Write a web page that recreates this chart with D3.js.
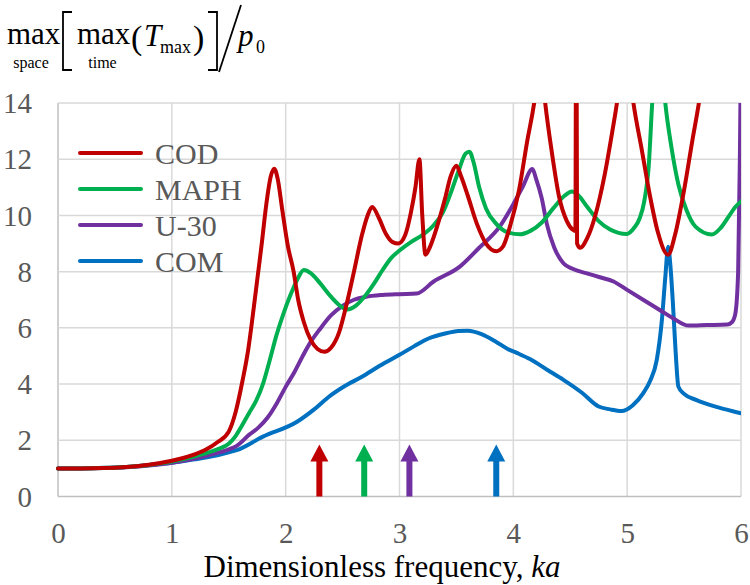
<!DOCTYPE html>
<html>
<head>
<meta charset="utf-8">
<script src="https://cdn.jsdelivr.net/npm/d3@7"></script>
<style>
  html, body { margin: 0; padding: 0; background: #ffffff; }
  svg { display: block; }
  text { font-family: "Liberation Serif", "Times New Roman", serif; }
</style>
</head>
<body>
<div id="chart"></div>
<script>
// ---------------- DATA ----------------
const kaTicks = [0, 1, 2, 3, 4, 5, 6];
const valTicks = [0, 2, 4, 6, 8, 10, 12, 14];
const seriesNames = ["COD", "MAPH", "U-30", "COM"];
const seriesColors = ["#C00000", "#00B050", "#7030A0", "#0070C0"];

const codData = [[0,1.0],[0.2,1.0],[0.4,1.01],[0.6,1.05],[0.8,1.13],[1.0,1.27],[1.1,1.37],[1.2,1.5],[1.3,1.67],[1.4,1.93],[1.5,2.31],
  [1.56,3.0],[1.62,4.1],[1.67,5.2],[1.71,6.4],[1.75,7.7],[1.79,9.0],[1.83,10.4],[1.87,11.4],[1.9,11.66],[1.93,11.3],[1.97,10.2],
  [2.02,8.9],[2.07,8.0],[2.11,7.0],[2.16,6.2],[2.22,5.57],[2.28,5.25],[2.34,5.15],[2.4,5.3],[2.47,5.85],[2.53,6.75],[2.6,8.0],
  [2.67,9.3],[2.72,10.0],[2.76,10.3],[2.82,9.9],[2.88,9.35],[2.94,9.05],[2.99,9.0],[3.05,9.3],[3.1,10.1],[3.14,11.0],[3.175,12.0],
  [3.2,10.0],[3.228,8.6],[3.27,8.9],[3.33,9.6],[3.4,10.6],[3.45,11.4],[3.5,11.77],[3.54,11.4],[3.6,10.7],[3.68,9.7],[3.76,9.0],
  [3.85,8.73],[3.91,8.9],[3.97,9.6],[4.05,10.9],[4.12,12.6],[4.19,14.2],[4.235,15.8],[4.28,14.0],[4.34,12.2],[4.4,10.7],[4.47,9.8],
  [4.52,9.5],[4.545,9.45],[4.553,20],[4.56,9.0],[4.587,8.85],[4.65,9.2],[4.72,10.0],[4.8,11.4],[4.87,13.0],[4.91,14.0],[4.98,16.5],
  [5.055,14.0],[5.13,12.3],[5.2,10.7],[5.27,9.4],[5.36,8.6],[5.42,9.3],[5.5,10.9],[5.57,12.6],[5.63,14.0],[5.7,16],[5.8,19]];

const maphData = [[0,1.0],[0.2,1.0],[0.4,1.01],[0.6,1.05],[0.8,1.12],[1.0,1.24],[1.2,1.43],[1.4,1.68],[1.5,1.88],[1.56,2.15],
  [1.62,2.55],[1.68,2.98],[1.74,3.4],[1.8,4.0],[1.86,4.85],[1.92,5.75],[1.98,6.5],[2.04,7.15],[2.1,7.7],[2.16,8.06],
  [2.22,7.95],[2.3,7.6],[2.4,7.1],[2.48,6.78],[2.54,6.65],[2.62,6.8],[2.71,7.2],[2.78,7.6],[2.85,8.05],[2.93,8.5],[3.0,8.75],
  [3.1,9.05],[3.2,9.3],[3.3,9.65],[3.38,10.1],[3.45,10.8],[3.52,11.6],[3.58,12.2],[3.614,12.27],[3.65,11.9],[3.7,11.0],[3.76,10.25],
  [3.85,9.7],[3.95,9.4],[4.06,9.33],[4.15,9.45],[4.25,9.75],[4.35,10.25],[4.45,10.7],[4.514,10.85],[4.57,10.72],[4.65,10.3],
  [4.75,9.8],[4.85,9.5],[4.997,9.34],[5.06,9.55],[5.11,9.9],[5.15,10.5],[5.19,11.8],[5.22,14],[5.275,17],[5.335,14],[5.39,12.4],
  [5.45,11.1],[5.52,10.2],[5.6,9.6],[5.744,9.32],[5.82,9.55],[5.89,9.95],[5.95,10.3],[6.0,10.5]];

const u30Data = [[0,1.0],[0.2,1.0],[0.4,1.01],[0.6,1.04],[0.8,1.1],[1.0,1.2],[1.2,1.35],[1.4,1.55],[1.5,1.68],[1.57,1.8],
  [1.68,2.2],[1.76,2.45],[1.84,2.8],[1.92,3.3],[2.0,3.9],[2.08,4.45],[2.15,5.0],[2.22,5.5],[2.3,5.95],[2.4,6.45],[2.5,6.78],
  [2.6,7.0],[2.7,7.1],[2.85,7.17],[3.0,7.2],[3.15,7.22],[3.3,7.65],[3.53,8.18],[3.7,8.85],[3.88,9.6],[4.0,10.4],[4.08,11.0],
  [4.168,11.65],[4.2,11.3],[4.25,10.6],[4.294,9.7],[4.36,8.85],[4.44,8.3],[4.52,8.1],[4.646,7.94],[4.76,7.8],[4.88,7.65],
  [5.0,7.35],[5.14,7.0],[5.3,6.6],[5.4,6.35],[5.54,6.08],[5.7,6.1],[5.88,6.12],[5.92,6.2],[5.95,6.5],[5.975,8],[5.99,12],[6.0,16]];

const comData = [[0,1.0],[0.2,1.0],[0.4,1.02],[0.6,1.05],[0.8,1.12],[1.0,1.2],[1.2,1.32],[1.4,1.47],[1.5,1.57],[1.57,1.65],
  [1.8,2.13],[2.1,2.66],[2.25,3.1],[2.38,3.55],[2.52,3.93],[2.67,4.26],[2.83,4.66],[3.0,5.04],[3.13,5.35],[3.26,5.63],[3.4,5.8],
  [3.52,5.89],[3.6,5.9],[3.72,5.78],[3.85,5.5],[3.95,5.25],[4.03,5.11],[4.15,4.88],[4.3,4.5],[4.44,4.15],[4.6,3.7],[4.75,3.2],
  [4.85,3.1],[4.95,3.04],[5.05,3.25],[5.14,3.67],[5.2,4.1],[5.26,4.86],[5.305,6.28],[5.335,7.8],[5.36,8.89],[5.38,8.2],[5.4,7.0],
  [5.425,5.2],[5.45,3.91],[5.5,3.65],[5.61,3.43],[5.8,3.17],[6.0,2.96]];

const seriesData = [codData, maphData, u30Data, comData];

// arrows (resonance markers) positions in ka, same order as series
const arrowKa = [2.296, 2.69, 3.087, 3.85];
const arrowTop = 1.85;

// ---------------- LAYOUT ----------------
const W = 750, H = 585;
const x0 = 58, x1 = 741, y0 = 496.5, y1 = 103;

const svg = d3.select("#chart").append("svg").attr("width", W).attr("height", H);

const x = d3.scaleLinear().domain([0, 6]).range([x0, x1]);
const y = d3.scaleLinear().domain([0, 14]).range([y0, y1]);

// gridlines
const grid = svg.append("g");
grid.selectAll("line.v").data(kaTicks).enter().append("line")
  .attr("x1", d => x(d)).attr("x2", d => x(d)).attr("y1", y1).attr("y2", y0)
  .attr("stroke", d => d === 0 ? "#bfbfbf" : "#d9d9d9").attr("stroke-width", 1.5);
grid.selectAll("line.h").data(valTicks).enter().append("line")
  .attr("x1", x0).attr("x2", x1).attr("y1", d => y(d)).attr("y2", d => y(d))
  .attr("stroke", d => d === 0 ? "#bfbfbf" : "#d9d9d9").attr("stroke-width", 1.5);

// axes (labels only)
const xAxis = d3.axisBottom(x).tickValues(kaTicks).tickSize(0).tickPadding(0).tickFormat(d3.format("d"));
const gx = svg.append("g").attr("transform", `translate(0,${y0})`).call(xAxis);
gx.select(".domain").remove();
gx.attr("font-family", null);
gx.selectAll("text").attr("font-size", 29).attr("fill", "#595959")
  .attr("dy", null).attr("y", 46);

const yAxis = d3.axisLeft(y).tickValues(valTicks).tickSize(0).tickPadding(0).tickFormat(d3.format("d"));
const gy = svg.append("g").attr("transform", `translate(32,0)`).call(yAxis);
gy.select(".domain").remove();
gy.attr("font-family", null);
gy.selectAll("text").attr("font-size", 29).attr("fill", "#595959")
  .attr("x", 0).attr("dy", "0.33em");

// clip
svg.append("clipPath").attr("id", "plotclip").append("rect")
  .attr("x", x0 - 3).attr("y", y1).attr("width", x1 - x0 + 3).attr("height", y0 - y1 + 3);

// arrows
const ag = svg.append("g");
arrowKa.forEach((k, i) => {
  const cx = x(k), tip = y(arrowTop), base = y(0);
  const hw = 9, hh = 17, sw = 3;
  const p = `M${cx - sw},${base} L${cx - sw},${tip + hh} L${cx - hw},${tip + hh} L${cx},${tip} L${cx + hw},${tip + hh} L${cx + sw},${tip + hh} L${cx + sw},${base} Z`;
  ag.append("path").attr("d", p).attr("fill", seriesColors[i]);
});

// lines
const line = d3.line().x(d => x(d[0])).y(d => y(d[1])).curve(d3.curveMonotoneX);
const lg = svg.append("g").attr("clip-path", "url(#plotclip)");
[3, 2, 1, 0].forEach(i => {
  lg.append("path").datum(seriesData[i]).attr("d", line)
    .attr("fill", "none").attr("stroke", seriesColors[i]).attr("stroke-width", 4)
    .attr("stroke-linejoin", "round").attr("stroke-linecap", "round");
});

// legend
const leg = svg.append("g");
seriesNames.forEach((n, i) => {
  const ly = 153 + i * 36;
  leg.append("line").attr("x1", 80).attr("x2", 141).attr("y1", ly).attr("y2", ly)
    .attr("stroke", seriesColors[i]).attr("stroke-width", 4).attr("stroke-linecap", "round");
  leg.append("text").attr("x", 155).attr("y", ly + 11).attr("font-size", 30).attr("fill", "#595959").text(n);
});

// x-axis title
const xt = svg.append("text").attr("x", 382).attr("y", 577).attr("text-anchor", "middle")
  .attr("font-size", 31).attr("fill", "#000");
xt.append("tspan").text("Dimensionless frequency, ");
xt.append("tspan").attr("font-style", "italic").text("ka");

// y-axis title (math expression)
const yt = svg.append("g").attr("fill", "#000");
yt.append("text").attr("x", 7).attr("y", 44).attr("font-size", 31).text("max");
yt.append("text").attr("x", 31).attr("y", 68).attr("font-size", 16).attr("text-anchor", "middle").text("space");
yt.append("path").attr("d", "M72,12 H63 V70 H72").attr("fill", "none").attr("stroke", "#000").attr("stroke-width", 1.8);
yt.append("text").attr("x", 77).attr("y", 44).attr("font-size", 31).text("max");
yt.append("text").attr("x", 102.5).attr("y", 68).attr("font-size", 16).attr("text-anchor", "middle").text("time");
yt.append("text").attr("x", 131).attr("y", 49).attr("font-size", 34).text("(");
yt.append("text").attr("x", 144).attr("y", 46).attr("font-size", 31).attr("font-style", "italic").text("T");
yt.append("text").attr("x", 160).attr("y", 53).attr("font-size", 18).text("max");
yt.append("text").attr("x", 193).attr("y", 49).attr("font-size", 34).text(")");
yt.append("path").attr("d", "M208,12 H217 V70 H208").attr("fill", "none").attr("stroke", "#000").attr("stroke-width", 1.8);
yt.append("path").attr("d", "M241,5 L219,72").attr("fill", "none").attr("stroke", "#000").attr("stroke-width", 1.8);
yt.append("text").attr("x", 238).attr("y", 46).attr("font-size", 31).attr("font-style", "italic").text("p");
yt.append("text").attr("x", 256).attr("y", 53).attr("font-size", 18).text("0");
</script>
</body>
</html>
